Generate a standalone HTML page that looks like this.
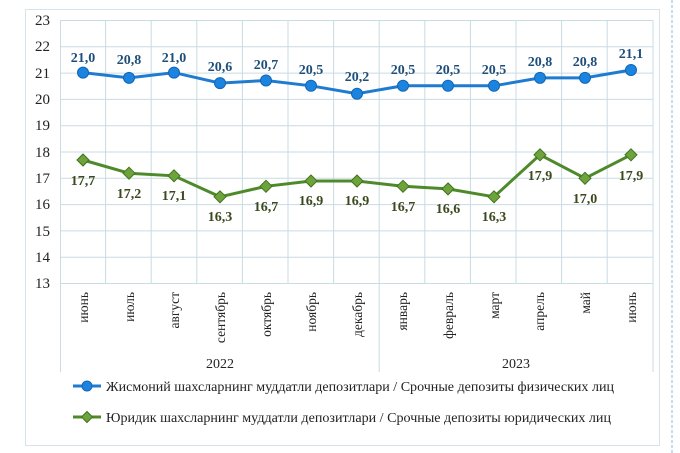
<!DOCTYPE html>
<html><head><meta charset="utf-8"><style>
body{margin:0;background:#fff;width:680px;height:453px;overflow:hidden}
svg{display:block;font-family:"Liberation Serif",serif}
</style></head><body>
<svg width="680" height="453" viewBox="0 0 680 453">
<rect x="25.5" y="9.5" width="634" height="436" fill="#fff" stroke="#d6e3ea" stroke-width="1"/>
<line x1="672" y1="0" x2="672" y2="453" stroke="#8fb8dc" stroke-dasharray="3,2" stroke-width="1"/>
<g stroke="#c9dbe3" stroke-width="1">
<line x1="60" y1="20.5" x2="653" y2="20.5"/><line x1="60" y1="46.8" x2="653" y2="46.8"/><line x1="60" y1="73.1" x2="653" y2="73.1"/><line x1="60" y1="99.4" x2="653" y2="99.4"/><line x1="60" y1="125.7" x2="653" y2="125.7"/><line x1="60" y1="152" x2="653" y2="152"/><line x1="60" y1="178.3" x2="653" y2="178.3"/><line x1="60" y1="204.6" x2="653" y2="204.6"/><line x1="60" y1="230.9" x2="653" y2="230.9"/><line x1="60" y1="257.2" x2="653" y2="257.2"/><line x1="60" y1="283.5" x2="653" y2="283.5"/>
<line x1="105.6" y1="20" x2="105.6" y2="283"/><line x1="151.2" y1="20" x2="151.2" y2="283"/><line x1="196.8" y1="20" x2="196.8" y2="283"/><line x1="242.4" y1="20" x2="242.4" y2="283"/><line x1="288" y1="20" x2="288" y2="283"/><line x1="333.6" y1="20" x2="333.6" y2="283"/><line x1="424.8" y1="20" x2="424.8" y2="283"/><line x1="470.4" y1="20" x2="470.4" y2="283"/><line x1="516" y1="20" x2="516" y2="283"/><line x1="561.6" y1="20" x2="561.6" y2="283"/><line x1="607.2" y1="20" x2="607.2" y2="283"/>
<line x1="60.5" y1="20" x2="60.5" y2="372"/><line x1="379.2" y1="20" x2="379.2" y2="372"/><line x1="653" y1="20" x2="653" y2="372"/>
</g>
<g font-size="15" fill="#222" text-anchor="end">
<text x="50" y="25">23</text><text x="50" y="51">22</text><text x="50" y="78">21</text><text x="50" y="104">20</text><text x="50" y="130">19</text><text x="50" y="157">18</text><text x="50" y="183">17</text><text x="50" y="209">16</text><text x="50" y="236">15</text><text x="50" y="262">14</text><text x="50" y="288">13</text>
</g>
<g font-size="13.5" fill="#222" text-anchor="end">
<text transform="translate(88,292) rotate(-90)">июнь</text>
<text transform="translate(134,292) rotate(-90)">июль</text>
<text transform="translate(179,292) rotate(-90)">август</text>
<text transform="translate(225,292) rotate(-90)">сентябрь</text>
<text transform="translate(271,292) rotate(-90)">октябрь</text>
<text transform="translate(316,292) rotate(-90)">ноябрь</text>
<text transform="translate(362,292) rotate(-90)">декабрь</text>
<text transform="translate(407,292) rotate(-90)">январь</text>
<text transform="translate(453,292) rotate(-90)">февраль</text>
<text transform="translate(499,292) rotate(-90)">март</text>
<text transform="translate(544,292) rotate(-90)">апрель</text>
<text transform="translate(590,292) rotate(-90)">май</text>
<text transform="translate(636,292) rotate(-90)">июнь</text>
</g>
<text x="220" y="368" font-size="14" text-anchor="middle" fill="#222">2022</text>
<text x="516" y="368" font-size="14" text-anchor="middle" fill="#222">2023</text>
<polyline fill="none" stroke="#1f7bd0" stroke-width="3" points="83,72.6 129,77.9 174,72.6 220,83.1 266,80.5 311,85.8 357,93.7 403,85.8 448,85.8 494,85.8 540,77.9 585,77.9 631,70"/>
<g fill="#1a84e0" stroke="#1565b0" stroke-width="1">
<circle cx="83" cy="72.6" r="5.5"/><circle cx="129" cy="77.9" r="5.5"/><circle cx="174" cy="72.6" r="5.5"/><circle cx="220" cy="83.1" r="5.5"/><circle cx="266" cy="80.5" r="5.5"/><circle cx="311" cy="85.8" r="5.5"/><circle cx="357" cy="93.7" r="5.5"/><circle cx="403" cy="85.8" r="5.5"/><circle cx="448" cy="85.8" r="5.5"/><circle cx="494" cy="85.8" r="5.5"/><circle cx="540" cy="77.9" r="5.5"/><circle cx="585" cy="77.9" r="5.5"/><circle cx="631" cy="70" r="5.5"/>
</g>
<g font-size="14" font-weight="bold" fill="#1e4f7a" text-anchor="middle">
<text x="83" y="62">21,0</text><text x="129" y="64">20,8</text><text x="174" y="62">21,0</text><text x="220" y="71">20,6</text><text x="266" y="69">20,7</text><text x="311" y="74">20,5</text><text x="357" y="81">20,2</text><text x="403" y="74">20,5</text><text x="448" y="74">20,5</text><text x="494" y="74">20,5</text><text x="540" y="66">20,8</text><text x="585" y="66">20,8</text><text x="631" y="58">21,1</text>
</g>
<polyline fill="none" stroke="#4e8a2a" stroke-width="3" points="83,160 129,173.2 174,175.8 220,196.8 266,186.3 311,181 357,181 403,186.3 448,188.9 494,196.8 540,154.8 585,178.3 631,154.8"/>
<g fill="#6ea23a" stroke="#3f7320" stroke-width="1">
<path d="M83 154l6 6-6 6-6-6z"/><path d="M129 167.2l6 6-6 6-6-6z"/><path d="M174 169.8l6 6-6 6-6-6z"/><path d="M220 190.8l6 6-6 6-6-6z"/><path d="M266 180.3l6 6-6 6-6-6z"/><path d="M311 175l6 6-6 6-6-6z"/><path d="M357 175l6 6-6 6-6-6z"/><path d="M403 180.3l6 6-6 6-6-6z"/><path d="M448 182.9l6 6-6 6-6-6z"/><path d="M494 190.8l6 6-6 6-6-6z"/><path d="M540 148.8l6 6-6 6-6-6z"/><path d="M585 172.3l6 6-6 6-6-6z"/><path d="M631 148.8l6 6-6 6-6-6z"/>
</g>
<g font-size="14" font-weight="bold" fill="#3b4a1e" text-anchor="middle">
<text x="83" y="185">17,7</text><text x="129" y="198">17,2</text><text x="174" y="200">17,1</text><text x="220" y="221">16,3</text><text x="266" y="211">16,7</text><text x="311" y="205">16,9</text><text x="357" y="205">16,9</text><text x="403" y="211">16,7</text><text x="448" y="213">16,6</text><text x="494" y="221">16,3</text><text x="540" y="180">17,9</text><text x="585" y="203">17,0</text><text x="631" y="180">17,9</text>
</g>
<line x1="73" y1="386" x2="101" y2="386" stroke="#1f7bd0" stroke-width="3"/>
<circle cx="87" cy="386" r="5" fill="#1a84e0" stroke="#1565b0"/>
<text x="106" y="391" font-size="14" fill="#222" textLength="508" lengthAdjust="spacingAndGlyphs">Жисмоний шахсларнинг  муддатли  депозитлари  / Срочные депозиты  физических  лиц</text>
<line x1="73" y1="417" x2="101" y2="417" stroke="#4e8a2a" stroke-width="3"/>
<path d="M87 411.5l5.5 5.5-5.5 5.5-5.5-5.5z" fill="#6ea23a" stroke="#3f7320"/>
<text x="106" y="422" font-size="14" fill="#222" textLength="505" lengthAdjust="spacingAndGlyphs">Юридик  шахсларнинг  муддатли  депозитлари  / Срочные депозиты  юридических  лиц</text>
</svg>
</body></html>
